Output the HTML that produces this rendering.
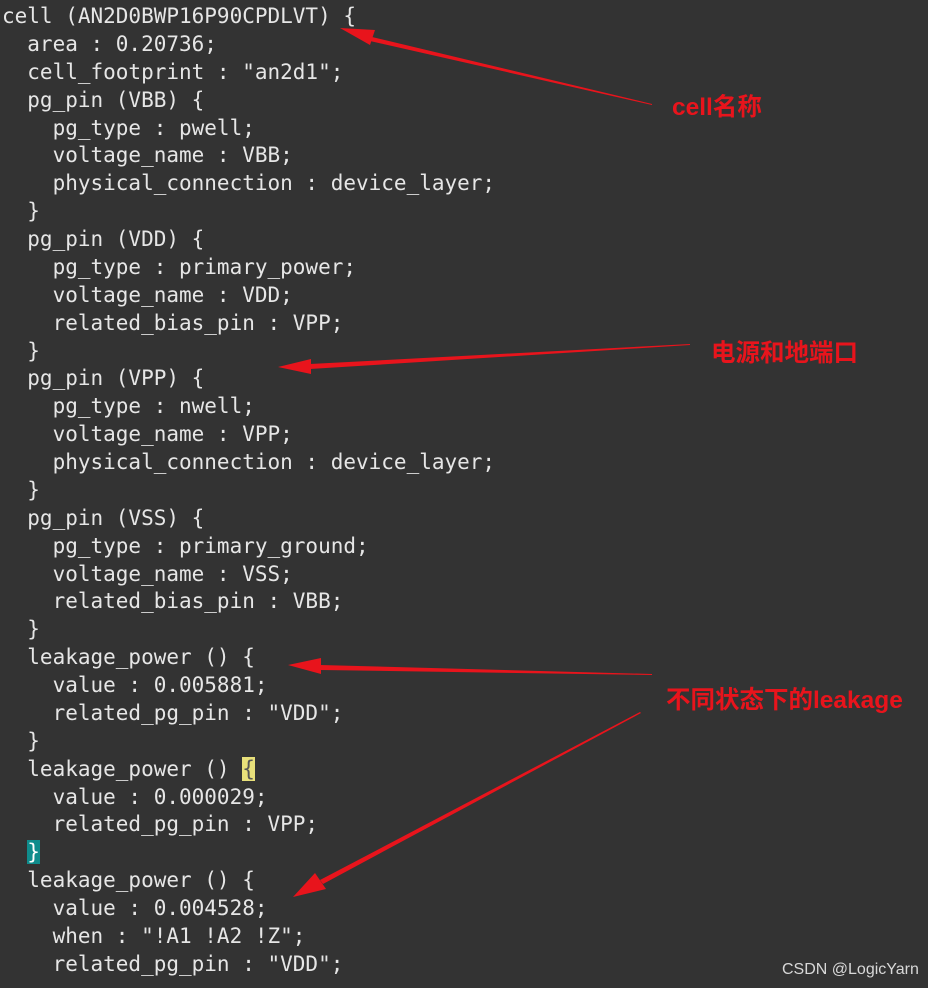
<!DOCTYPE html>
<html><head><meta charset="utf-8"><style>
html,body{margin:0;padding:0;background:#333333;width:928px;height:988px;overflow:hidden}
pre{position:absolute;left:2px;top:3px;margin:0;font-family:"DejaVu Sans Mono","Liberation Mono",monospace;font-size:21px;line-height:27.88px;color:#e6e6e6}
.y{background:#e8e07a;color:#555}
.t{background:#0f8c8c;color:#fff}
.lab{position:absolute;font-family:"Liberation Sans","Noto Sans CJK SC",sans-serif;font-weight:bold;color:#e8141c;font-size:24.5px;white-space:nowrap}
.wm{position:absolute;left:782px;top:961px;font-family:"Liberation Sans","Noto Sans CJK SC",sans-serif;font-size:16px;color:#d8d8d8}
svg{position:absolute;left:0;top:0}
</style></head><body>
<pre>cell (AN2D0BWP16P90CPDLVT) {
  area : 0.20736;
  cell_footprint : "an2d1";
  pg_pin (VBB) {
    pg_type : pwell;
    voltage_name : VBB;
    physical_connection : device_layer;
  }
  pg_pin (VDD) {
    pg_type : primary_power;
    voltage_name : VDD;
    related_bias_pin : VPP;
  }
  pg_pin (VPP) {
    pg_type : nwell;
    voltage_name : VPP;
    physical_connection : device_layer;
  }
  pg_pin (VSS) {
    pg_type : primary_ground;
    voltage_name : VSS;
    related_bias_pin : VBB;
  }
  leakage_power () {
    value : 0.005881;
    related_pg_pin : "VDD";
  }
  leakage_power () <span class="y">{</span>
    value : 0.000029;
    related_pg_pin : VPP;
  <span class="t">}</span>
  leakage_power () {
    value : 0.004528;
    when : "!A1 !A2 !Z";
    related_pg_pin : "VDD";</pre>
<svg width="928" height="988">
<g fill="#e8141c">
<polygon points="652,104 372,37 370,41 652,105"/><polygon points="340,28 375,30 370,45"/>
<polygon points="690,344 310,364 310,369 690,345"/><polygon points="278,367 311,359 311,374"/>
<polygon points="652,674 320,665 320,670 652,675"/><polygon points="288,665 321,658 321,674"/>
<polygon points="640,712 320,880 323,884 641,713"/><polygon points="293,897 315,873 326,889"/>
</g></svg>
<div class="lab" style="left:672px;top:88px">cell名称</div>
<div class="lab" style="left:711px;top:334px">电源和地端口</div>
<div class="lab" style="left:666px;top:681px">不同状态下的leakage</div>
<div class="wm">CSDN @LogicYarn</div>
</body></html>
